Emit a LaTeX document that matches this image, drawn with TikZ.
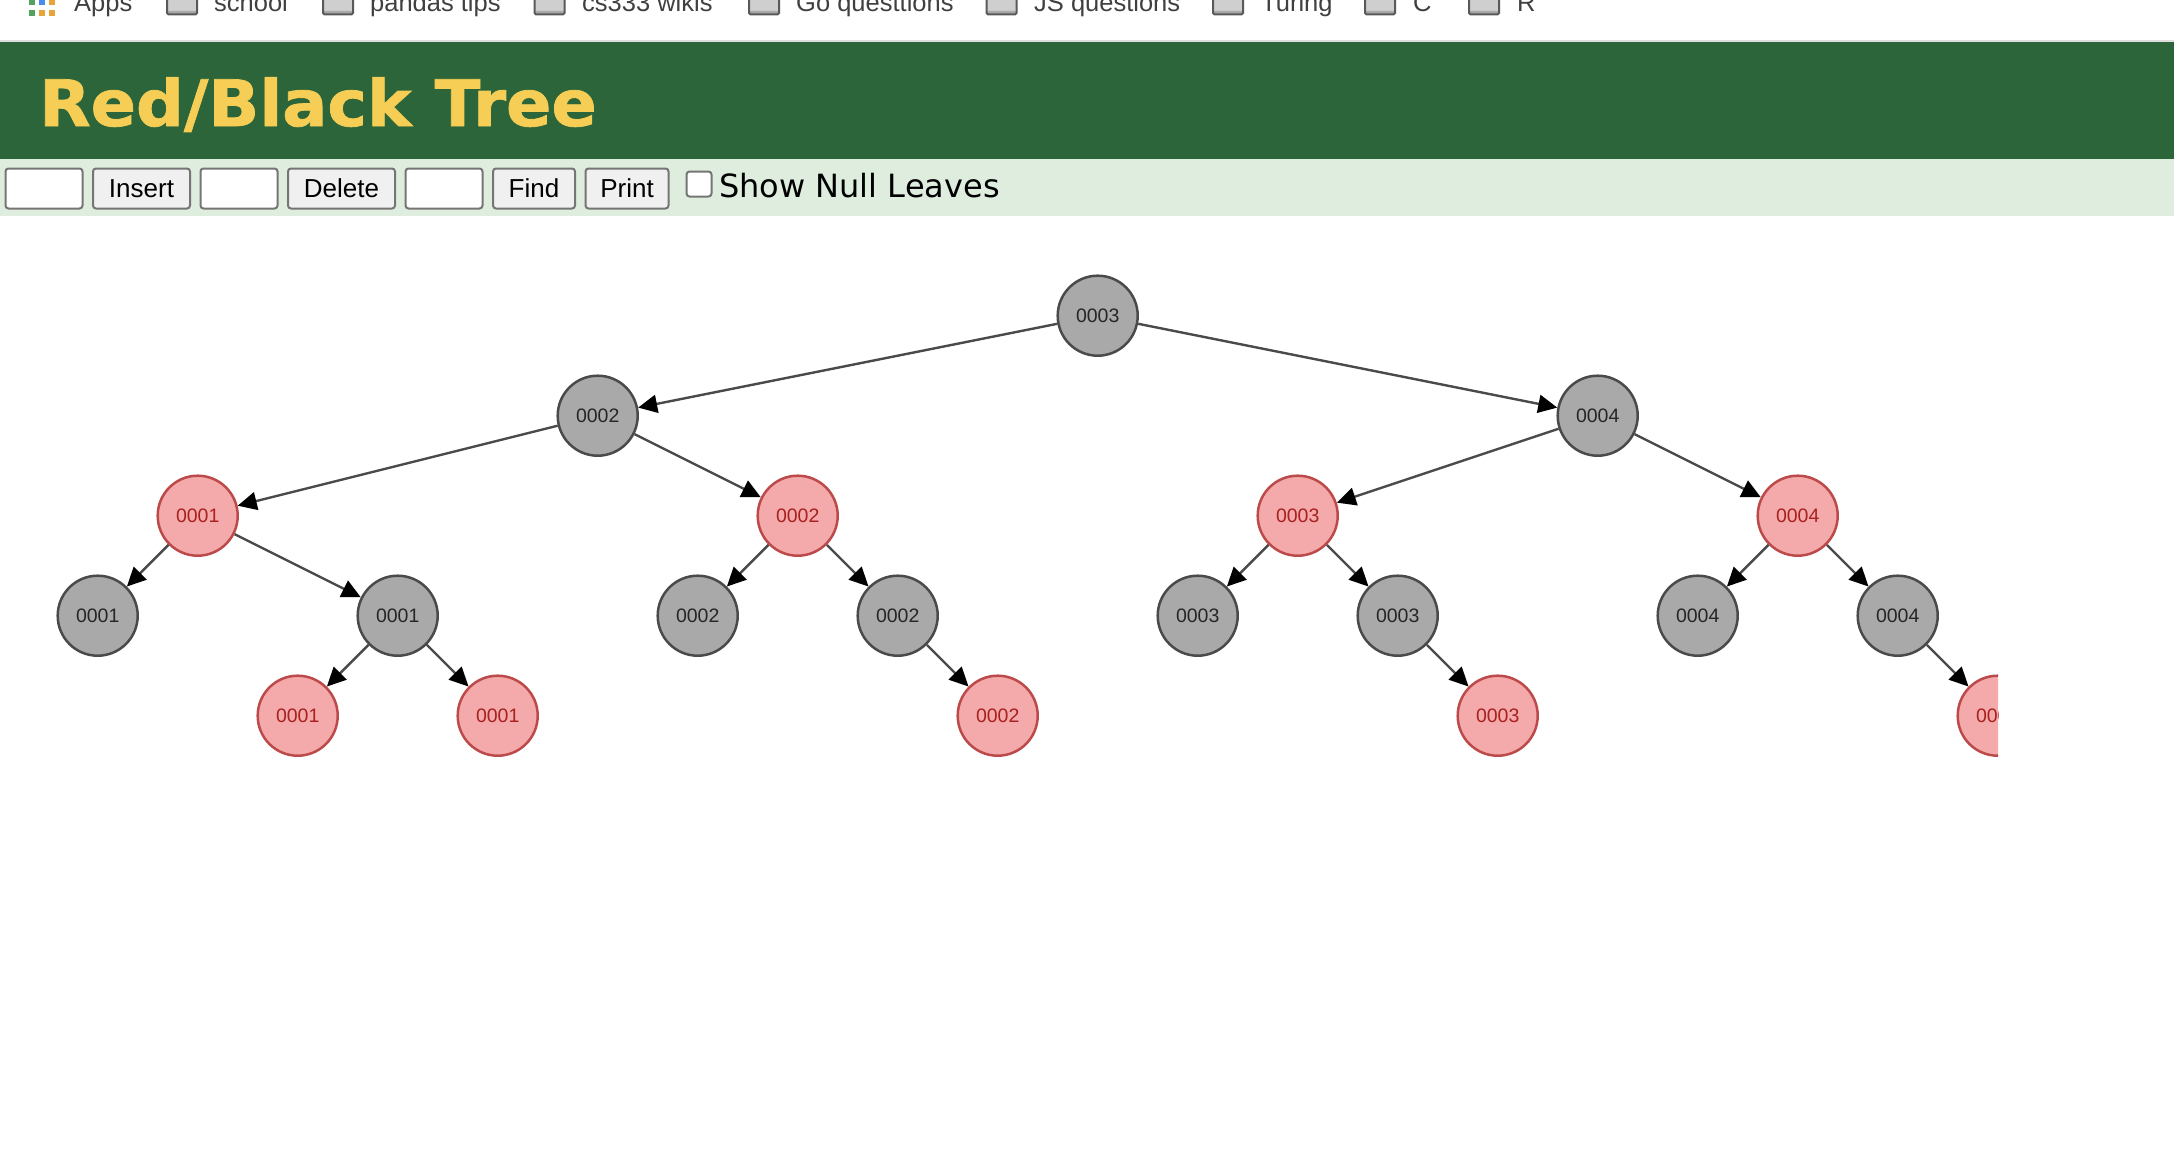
\documentclass[tikz,border=0pt]{standalone}
\usepackage{fontspec}
\setmainfont{Liberation Sans}
\newfontfamily\headfont{DejaVu Sans}[BoldFeatures={FakeStretch=1.045,FakeBold=1.2}]
\newfontfamily\labelfont{DejaVu Sans}
\usetikzlibrary{arrows.meta}

\definecolor{headgreen}{HTML}{2C6539}
\definecolor{headyellow}{HTML}{F6CE55}
\definecolor{barlight}{HTML}{DFEDDF}
\definecolor{blackfill}{HTML}{A9A9A9}
\definecolor{blackedge}{HTML}{4A4A4A}
\definecolor{redfill}{HTML}{F4AAAA}
\definecolor{rededge}{HTML}{BC4A4A}
\definecolor{redtext}{HTML}{A82020}
\definecolor{dotgreen}{HTML}{52A35F}
\definecolor{dotblue}{HTML}{4A8BF0}
\definecolor{dotorange}{HTML}{E8A33A}

\begin{document}
\begin{tikzpicture}
% one unit is one pixel of the page
[
    x=1pt, y=-1pt,
    blacknode/.style={draw=blackedge,fill=blackfill,circle,line width=2.5pt,minimum size=80pt,inner sep=0pt,text=black!85,font=\fontsize{19.5}{22}\selectfont},
    rednode/.style={draw=rededge,fill=redfill,circle,line width=2.5pt,minimum size=80pt,inner sep=0pt,text=redtext,font=\fontsize{19.5}{22}\selectfont},
    edge/.style={draw=blackedge,line width=2.4pt,-{Triangle[length=19pt,width=18pt,black]}},
    inputbox/.style={draw=black!54,fill=white,rounded corners=3pt,line width=2pt,minimum width=77pt,minimum height=40pt,inner sep=0pt},
    pushbutton/.style={draw=black!54,fill=black!6,rounded corners=3pt,line width=2pt,minimum height=40pt,inner sep=0pt,font=\fontsize{26}{30}\selectfont},
    booktext/.style={anchor=base west,inner sep=0pt,text=black!75,font=\fontsize{25.5}{30}\selectfont},
    bookfolder/.style={draw=black!65,fill=black!19,rounded corners=1.5pt,line width=2pt,minimum width=30pt,minimum height=29pt,inner sep=0pt,
      path picture={\fill[black!34] (path picture bounding box.south west) rectangle ([yshift=3.5pt]path picture bounding box.south east);}}
]
\useasboundingbox (0,0) rectangle (2174,1156);
\fill[white] (0,0) rectangle (2174,1156);

% bookmarks
\clip (0,0) rectangle (2174,1156);
\fill[dotgreen] (29,0) rectangle (35,5);
\fill[dotblue] (39,0) rectangle (45,5);
\fill[dotorange] (49,0) rectangle (55,5);
\fill[dotgreen] (29,10) rectangle (35,16);
\fill[dotorange] (39,10) rectangle (45,16);
\fill[dotorange] (49,10) rectangle (55,16);
\node[booktext] (apps) at (74,12) {Apps};
\node[bookfolder] (f1) at (182,0) {};
\node[booktext] (school) at (214,12) {school};
\node[bookfolder] (f2) at (338,0) {};
\node[booktext] (pandas) at (370,12) {pandas tips};
\node[bookfolder] (f3) at (549.5,0) {};
\node[booktext] (wikis) at (582,12) {cs333 wikis};
\node[bookfolder] (f4) at (764,0) {};
\node[booktext] (goq) at (796,12) {Go questtions};
\node[bookfolder] (f5) at (1001.5,0) {};
\node[booktext] (jsq) at (1034,12) {JS questions};
\node[bookfolder] (f6) at (1228,0) {};
\node[booktext] (turing) at (1261,12) {Turing};
\node[bookfolder] (f7) at (1380,0) {};
\node[booktext] (clang) at (1413,12) {C};
\node[bookfolder] (f8) at (1484,0) {};
\node[booktext] (rlang) at (1517,12) {R};

% header
\fill[black!13] (0,40) rectangle (2174,42);
\fill[headgreen] (0,42) rectangle (2174,159);
\fill[barlight] (0,159) rectangle (2174,216);
\node[anchor=base west,inner sep=0pt,text=headyellow,font=\headfont\bfseries\fontsize{64}{70}\selectfont] (title) at (39,126) {Red/Black Tree};

% controls
\node[inputbox] (insertbox) at (44,188.5) {};
\node[pushbutton,minimum width=97pt] (insert) at (141.5,188.5) {Insert};
\node[inputbox] (deletebox) at (239,188.5) {};
\node[pushbutton,minimum width=107pt] (delete) at (341.5,188.5) {Delete};
\node[inputbox] (findbox) at (444,188.5) {};
\node[pushbutton,minimum width=82pt] (find) at (534,188.5) {Find};
\node[pushbutton,minimum width=83pt] (print) at (627,188.5) {Print};
\node[draw=black!54,fill=white,rounded corners=3pt,line width=2pt,minimum size=25pt,inner sep=0pt] (nullcheck) at (699,184) {};
\node[anchor=base west,inner sep=0pt,font=\labelfont\fontsize{32}{36}\selectfont] (nulllabel) at (719,197) {Show Null Leaves};

% tree
\node[blacknode] (n3) at (1097.7,315.7) {0003};
\node[blacknode] (n2) at (597.7,415.7) {0002};
\node[blacknode] (n4) at (1597.7,415.7) {0004};
\node[rednode] (r1) at (197.7,515.7) {0001};
\node[rednode] (r2) at (797.7,515.7) {0002};
\node[rednode] (r3) at (1297.7,515.7) {0003};
\node[rednode] (r4) at (1797.7,515.7) {0004};
\node[blacknode] (b1l) at (97.7,615.7) {0001};
\node[blacknode] (b1r) at (397.7,615.7) {0001};
\node[blacknode] (b2l) at (697.7,615.7) {0002};
\node[blacknode] (b2r) at (897.7,615.7) {0002};
\node[blacknode] (b3l) at (1197.7,615.7) {0003};
\node[blacknode] (b3r) at (1397.7,615.7) {0003};
\node[blacknode] (b4l) at (1697.7,615.7) {0004};
\node[blacknode] (b4r) at (1897.7,615.7) {0004};
\node[rednode] (l1a) at (297.7,715.7) {0001};
\node[rednode] (l1b) at (497.7,715.7) {0001};
\node[rednode] (l2) at (997.7,715.7) {0002};
\node[rednode] (l3) at (1497.7,715.7) {0003};
\begin{scope}
\clip (1940,660) rectangle (1998,770);
\node[rednode] (l4) at (1997.7,715.7) {0004};
\end{scope}

% links
\draw[edge] (n3) -- (n2);
\draw[edge] (n3) -- (n4);
\draw[edge] (n2) -- (r1);
\draw[edge] (n2) -- (r2);
\draw[edge] (n4) -- (r3);
\draw[edge] (n4) -- (r4);
\draw[edge] (r1) -- (b1l);
\draw[edge] (r1) -- (b1r);
\draw[edge] (r2) -- (b2l);
\draw[edge] (r2) -- (b2r);
\draw[edge] (r3) -- (b3l);
\draw[edge] (r3) -- (b3r);
\draw[edge] (r4) -- (b4l);
\draw[edge] (r4) -- (b4r);
\draw[edge] (b1r) -- (l1a);
\draw[edge] (b1r) -- (l1b);
\draw[edge] (b2r) -- (l2);
\draw[edge] (b3r) -- (l3);
\draw[edge] (b4r) -- (l4);
\end{tikzpicture}
\end{document}
